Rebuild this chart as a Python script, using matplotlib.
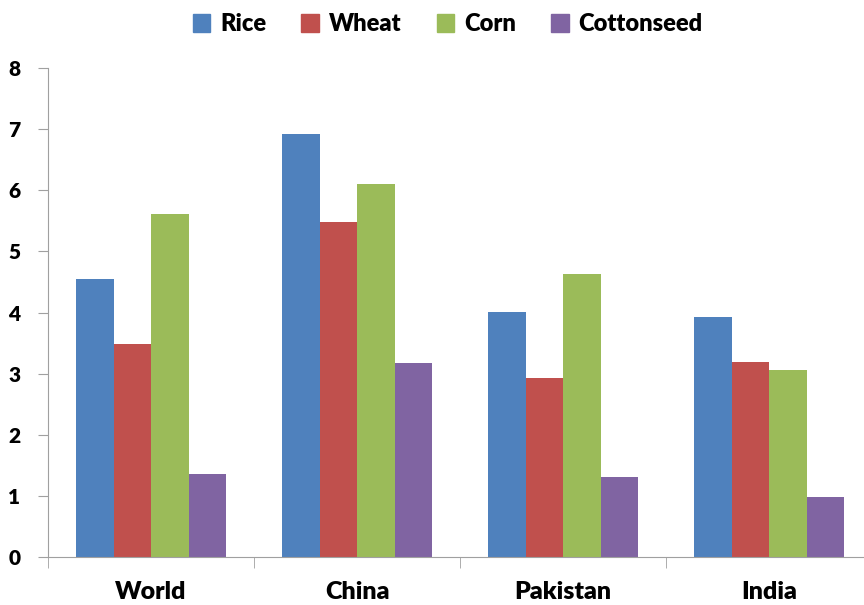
import numpy as np
import matplotlib
matplotlib.use("Agg")
import matplotlib.pyplot as plt
from matplotlib.patches import Patch

plt.rcParams['font.family'] = ['Lato', 'DejaVu Sans']
plt.rcParams['font.weight'] = 'heavy'

# Data
regions = ['World', 'China', 'Pakistan', 'India']
series = ['Rice', 'Wheat', 'Corn', 'Cottonseed']
rice = [4.55, 6.92, 4.01, 3.93]
wheat = [3.49, 5.48, 2.93, 3.19]
corn = [5.61, 6.10, 4.63, 3.06]
cottonseed = [1.36, 3.17, 1.31, 0.98]
colors = ['#4F81BD', '#C0504D', '#9BBB59', '#8064A2']

fig = plt.figure(figsize=(8.64, 6.05), dpi=100)
ax = fig.add_axes([0.0556, 0.0793, 0.954, 0.8083])

values = [rice, wheat, corn, cottonseed]
x = np.arange(len(regions)) + 0.5
width = 0.182
for i, (vals, col) in enumerate(zip(values, colors)):
    ax.bar(x + (i - 1.5) * width, vals, width, color=col, edgecolor='none')

ax.set_xlim(0, len(regions))
ax.set_ylim(0, 8)
ax.set_yticks(range(0, 9))
ax.set_yticklabels([str(v) for v in range(0, 9)], fontsize=15, fontweight='heavy')
ax.tick_params(axis='y', length=7, color='#A0A0A0', pad=13)

ax.set_xticks(x)
ax.set_xticklabels(regions, fontsize=18, fontweight='heavy')
ax.set_xticks(np.arange(len(regions) + 1), minor=True)
ax.tick_params(axis='x', which='major', length=0, pad=17)
ax.tick_params(axis='x', which='minor', length=8, color='#A0A0A0')

for s in ['top', 'right']:
    ax.spines[s].set_visible(False)
for s in ['left', 'bottom']:
    ax.spines[s].set_color('#A0A0A0')

handles = [Patch(color=c, label=l) for c, l in zip(colors, series)]
fig.legend(handles=handles, loc='center', bbox_to_anchor=(0.518, 0.96), ncol=4,
           frameon=False, handlelength=0.75, handleheight=0.75,
           handletextpad=0.4, columnspacing=1.5, prop={'weight': 'heavy', 'size': 17})

fig.savefig('out.png', dpi=100)
